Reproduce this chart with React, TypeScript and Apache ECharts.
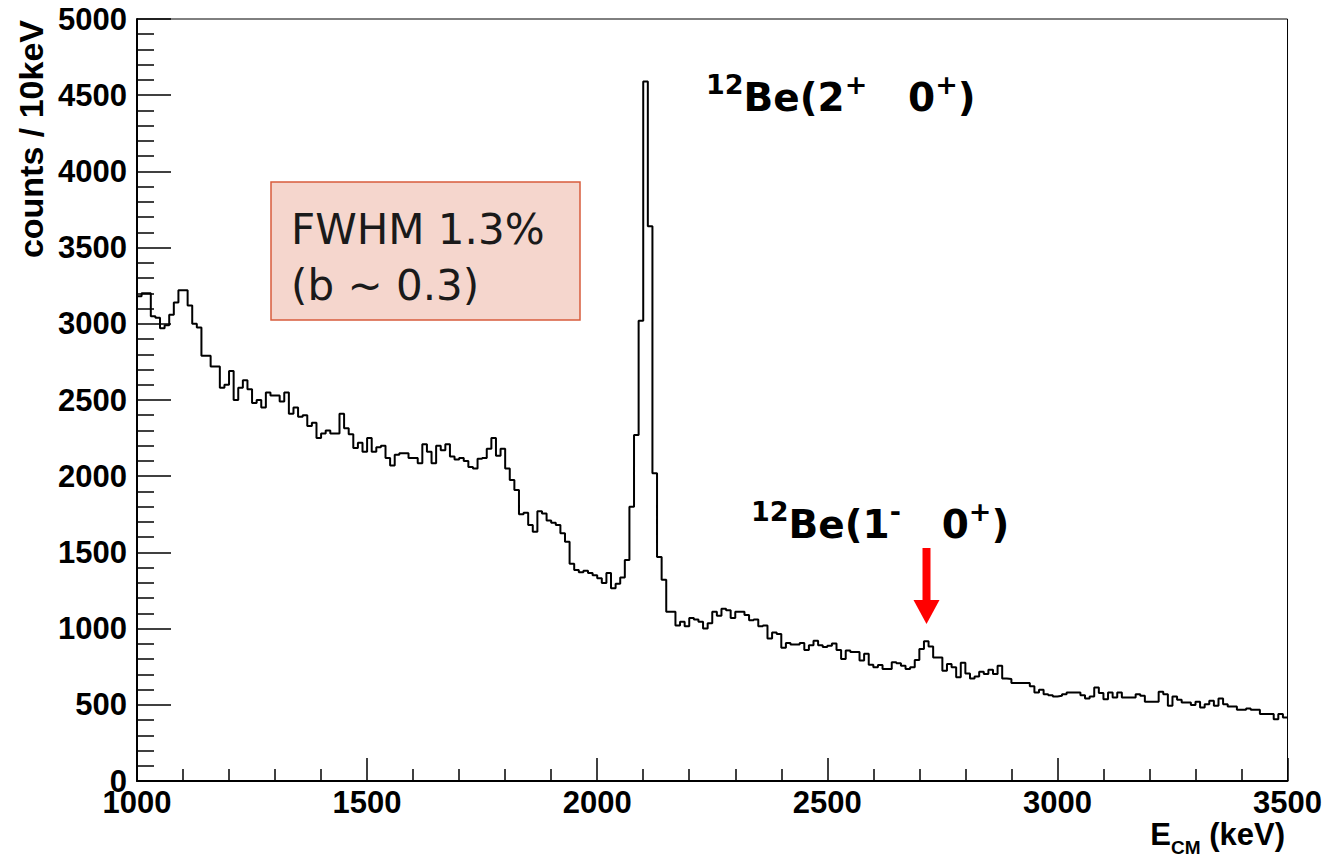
import React, { useEffect, useRef } from "react";
import * as echarts from "echarts";

// ---- axis setup ----
const X_MIN = 1000;
const X_MAX = 3500;
const X_STEP = 500;
const BIN_WIDTH = 10; // keV
const Y_MIN = 0;
const Y_MAX = 5000;
const Y_STEP = 500;

// ---- histogram contents (counts / 10 keV), one value per bin ----
const counts1000to1490 = [
  3180, 3200, 3200, 3050, 3040, 2970, 2990, 3060, 3140, 3220,
  3220, 3120, 3000, 2975, 2790, 2790, 2720, 2720, 2580, 2600,
  2690, 2500, 2580, 2630, 2570, 2480, 2500, 2450, 2550, 2530,
  2530, 2490, 2550, 2410, 2450, 2390, 2400, 2330, 2350, 2250,
  2280, 2300, 2280, 2280, 2410, 2315, 2275, 2185, 2220, 2160,
];
const counts1500to1990 = [
  2250, 2160, 2190, 2200, 2120, 2070, 2140, 2150, 2150, 2120,
  2120, 2085, 2210, 2160, 2085, 2200, 2170, 2210, 2130, 2110,
  2120, 2100, 2060, 2050, 2115, 2120, 2180, 2250, 2135, 2180,
  2050, 1975, 1910, 1750, 1760, 1680, 1635, 1770, 1755, 1710,
  1695, 1680, 1625, 1570, 1425, 1385, 1370, 1380, 1365, 1350,
];
const counts2000to2490 = [
  1330, 1300, 1365, 1265, 1295, 1335, 1450, 1800, 2270, 3020,
  4590, 3640, 2020, 1470, 1320, 1110, 1110, 1020, 1045, 1015,
  1070, 1060, 1045, 1000, 1035, 1110, 1085, 1130, 1120, 1070,
  1110, 1110, 1090, 1055, 1060, 1015, 1020, 935, 975, 965,
  875, 905, 895, 895, 905, 860, 890, 920, 890, 880,
];
const counts2500to2990 = [
  888, 903, 860, 800, 857, 846, 846, 790, 835, 763,
  746, 761, 735, 735, 779, 772, 757, 735, 746, 794,
  866, 917, 882, 811, 811, 724, 768, 746, 680, 776,
  705, 673, 686, 717, 702, 730, 702, 757, 673, 669,
  643, 643, 643, 643, 621, 581, 599, 570, 563, 555,
];
const counts3000to3490 = [
  559, 570, 581, 581, 581, 563, 541, 555, 614, 577,
  537, 581, 548, 581, 548, 548, 548, 570, 559, 520,
  520, 520, 585, 570, 493, 555, 533, 515, 515, 498,
  520, 482, 504, 526, 493, 541, 504, 489, 489, 467,
  467, 476, 467, 467, 439, 439, 439, 406, 439, 417,
];

// ---- texts ----
const yAxisTitle = "counts / 10keV";
const boxLines = ["FWHM 1.3%", "(b ~ 0.3)"];

export default function App() {
  const ref = useRef<HTMLDivElement>(null);

  useEffect(() => {
    if (!ref.current) return;
    const chart = echarts.init(ref.current, undefined, { renderer: "svg" });

    const counts = [
      ...counts1000to1490,
      ...counts1500to1990,
      ...counts2000to2490,
      ...counts2500to2990,
      ...counts3000to3490,
    ];
    const histData: [number, number][] = counts.map((c, i) => [X_MIN + i * BIN_WIDTH, c]);
    histData.push([X_MAX, counts[counts.length - 1]]);

    const axisFont = {
      color: "#000",
      fontFamily: "Liberation Sans",
      fontWeight: "bold" as const,
      fontSize: 31,
      formatter: (v: number) => String(v),
    };

    const labelFont = "DejaVu Sans";
    const richLabel = {
      b: { fontSize: 39, fontWeight: "bold", fontFamily: labelFont, lineHeight: 46, verticalAlign: "bottom", fill: "#000" },
      sup: { fontSize: 27, fontWeight: "bold", fontFamily: labelFont, lineHeight: 27, verticalAlign: "top", fill: "#000" },
    };

    chart.setOption({
      animation: false,
      backgroundColor: "#fff",
      grid: {
        left: 137,
        right: 37,
        top: 19,
        bottom: 76,
        show: true,
        borderColor: "#000",
        borderWidth: 1,
        backgroundColor: "transparent",
      },
      xAxis: {
        type: "value",
        min: X_MIN,
        max: X_MAX,
        interval: X_STEP,
        axisLine: { show: true, onZero: false, lineStyle: { color: "#000", width: 2 } },
        axisTick: { show: true, inside: true, length: 23, lineStyle: { color: "#000", width: 1.5 } },
        minorTick: { show: true, splitNumber: 5, length: 12, lineStyle: { color: "#000", width: 1.5 } },
        axisLabel: { ...axisFont, margin: 6 },
        splitLine: { show: false },
        minorSplitLine: { show: false },
      },
      yAxis: {
        type: "value",
        min: Y_MIN,
        max: Y_MAX,
        interval: Y_STEP,
        axisLine: { show: true, onZero: false, lineStyle: { color: "#000", width: 2 } },
        axisTick: { show: true, inside: true, length: 34, lineStyle: { color: "#000", width: 1.5 } },
        minorTick: { show: true, splitNumber: 5, length: 17, lineStyle: { color: "#000", width: 1.5 } },
        axisLabel: { ...axisFont, margin: 10 },
        splitLine: { show: false },
        minorSplitLine: { show: false },
      },
      series: [
        {
          type: "line",
          step: "end",
          data: histData,
          symbol: "none",
          clip: true,
          lineStyle: { color: "#000", width: 2 },
          z: 3,
        },
      ],
      graphic: [
        // y-axis title
        {
          type: "text",
          x: 31,
          y: 20,
          rotation: Math.PI / 2,
          style: {
            text: yAxisTitle,
            fontFamily: "Liberation Sans",
            fontWeight: "bold",
            fontSize: 34,
            fill: "#000",
            align: "right",
            verticalAlign: "middle",
          },
        },
        // x-axis title
        {
          type: "text",
          x: 1285,
          y: 836,
          style: {
            text: "{e|E}{sub|CM}{e| (keV)}",
            align: "right",
            verticalAlign: "middle",
            rich: {
              e: { fontFamily: "Liberation Sans", fontWeight: "bold", fontSize: 31, lineHeight: 34, verticalAlign: "top", fill: "#000" },
              sub: { fontFamily: "Liberation Sans", fontWeight: "bold", fontSize: 19, lineHeight: 19, verticalAlign: "bottom", fill: "#000", padding: [0, 0, -4, 0] },
            },
          },
        },
        // annotation box
        {
          type: "rect",
          shape: { x: 271, y: 182, width: 309, height: 138 },
          style: { fill: "#f5d6cd", stroke: "#d85c3c", lineWidth: 1.5 },
          z: 10,
        },
        {
          type: "text",
          x: 291,
          y: 229,
          z: 11,
          style: {
            text: boxLines[0],
            fontFamily: "DejaVu Sans",
            fontSize: 42,
            fill: "#1a1a1a",
            align: "left",
            verticalAlign: "middle",
          },
        },
        {
          type: "text",
          x: 291,
          y: 285,
          z: 11,
          style: {
            text: boxLines[1],
            fontFamily: "DejaVu Sans",
            fontSize: 42,
            fill: "#1a1a1a",
            align: "left",
            verticalAlign: "middle",
          },
        },
        // peak labels
        {
          type: "text",
          x: 706,
          y: 71,
          z: 11,
          style: {
            text: "{sup|12}{b|Be(2}{sup|+}{b|   0}{sup|+}{b|)}",
            align: "left",
            verticalAlign: "top",
            rich: richLabel,
          },
        },
        {
          type: "text",
          x: 751,
          y: 498,
          z: 11,
          style: {
            text: "{sup|12}{b|Be(1}{sup|-}{b|   0}{sup|+}{b|)}",
            align: "left",
            verticalAlign: "top",
            rich: richLabel,
          },
        },
        // red arrow
        {
          type: "rect",
          shape: { x: 922.5, y: 548, width: 8, height: 54 },
          style: { fill: "#ff0000" },
          z: 11,
        },
        {
          type: "polygon",
          shape: { points: [[913.5, 600], [939.5, 600], [926.5, 624]] },
          style: { fill: "#ff0000" },
          z: 11,
        },
      ],
    });

    return () => chart.dispose();
  }, []);

  return (
    <div
      ref={ref}
      style={{ position: "absolute", left: 0, top: 0, width: 1325, height: 857, background: "#fff" }}
    />
  );
}
